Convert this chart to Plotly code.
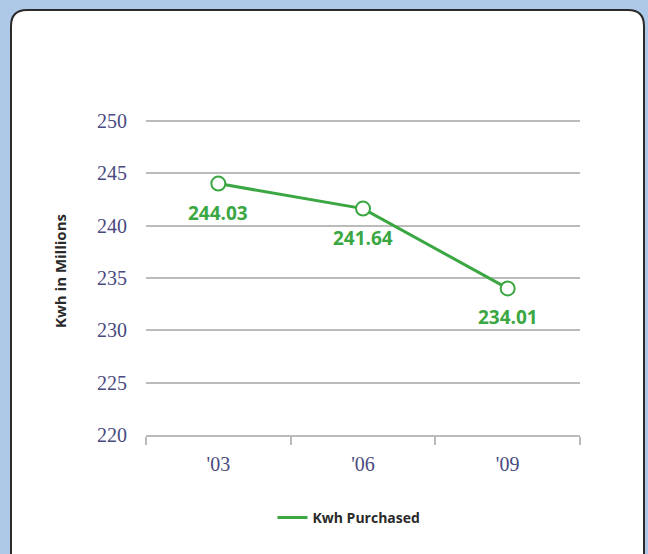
import plotly.graph_objects as go

categories = ["'03", "'06", "'09"]
kwh_purchased = [244.03, 241.64, 234.01]
value_labels = ["244.03", "241.64", "234.01"]
y_ticks = [220, 225, 230, 235, 240, 245, 250]

GREEN = "#3ba743"
W, H = 648, 554
L, R, T, B = 146, 68, 118, 119
pw, ph = W - L - R, H - T - B

def px_x(x):
    return (x - L) / pw

def px_y(y):
    return (H - B - y) / ph

fig = go.Figure()
fig.add_trace(go.Scatter(
    x=categories, y=kwh_purchased, mode="lines+markers", name="Kwh Purchased",
    line=dict(color=GREEN, width=3), showlegend=False,
    marker=dict(symbol="circle", size=14, color="white", line=dict(color=GREEN, width=2)),
    cliponaxis=False,
))
# legend-only entry (line sample without marker)
fig.add_trace(go.Scatter(
    x=[None], y=[None], mode="lines", name="<b>Kwh Purchased</b>",
    line=dict(color=GREEN, width=3), showlegend=True,
))

for c, v, t in zip(categories, kwh_purchased, value_labels):
    fig.add_annotation(x=c, y=v, text="<b>" + t + "</b>", showarrow=False, yshift=-29,
                       font=dict(family="Open Sans, Noto Sans, sans-serif", size=19, color=GREEN))

# rounded white panel
x0, x1 = px_x(11), px_x(644)
y0, y1 = px_y(10), px_y(580)
rx, ry = 16 / pw, 16 / ph
path = (f"M {x0+rx},{y0} L {x1-rx},{y0} Q {x1},{y0} {x1},{y0-ry} "
        f"L {x1},{y1+ry} Q {x1},{y1} {x1-rx},{y1} L {x0+rx},{y1} Q {x0},{y1} {x0},{y1+ry} "
        f"L {x0},{y0-ry} Q {x0},{y0} {x0+rx},{y0} Z")
fig.add_shape(type="path", path=path, xref="paper", yref="paper", layer="below",
              fillcolor="white", line=dict(color="#2b2b2b", width=2))

fig.add_annotation(x=px_x(60), y=px_y(271), xref="paper", yref="paper", text="<b>Kwh in Millions</b>",
                   textangle=-90, showarrow=False, xanchor="center", yanchor="middle",
                   font=dict(family="Open Sans, Noto Sans, sans-serif", size=15, color="#2a2a2a"))

fig.update_layout(
    width=W, height=H,
    margin=dict(l=L, r=R, t=T, b=B),
    paper_bgcolor="#aec8e8", plot_bgcolor="rgba(0,0,0,0)",
    showlegend=True,
    legend=dict(orientation="h", x=px_x(349), xanchor="center", y=px_y(518), yanchor="middle",
                bgcolor="rgba(0,0,0,0)",
                font=dict(family="Open Sans, Noto Sans, sans-serif", size=14, color="#2a2a2a"),
                itemwidth=30),
    xaxis=dict(type="category", range=[-0.5, 2.5], showgrid=False, showline=True,
               linecolor="#bbbbbb", linewidth=2, ticks="outside", tickson="boundaries",
               ticklen=8, tickcolor="#bbbbbb", tickwidth=1.5, zeroline=False,
               ticklabelstandoff=10,
               tickfont=dict(family="Liberation Serif, serif", size=20, color="#4a4a80")),
    yaxis=dict(range=[220, 250.3], tickvals=y_ticks, showgrid=True, gridcolor="#bbbbbb", gridwidth=2,
               zeroline=False, showline=False, ticks="outside", ticklen=14, tickcolor="rgba(0,0,0,0)",
               tickfont=dict(family="Liberation Serif, serif", size=20, color="#4a4a80")),
)
fig.write_html("out.html", config={"displayModeBar": False},
               post_script="document.body.style.margin='0';document.body.style.background='#aec8e8';")
